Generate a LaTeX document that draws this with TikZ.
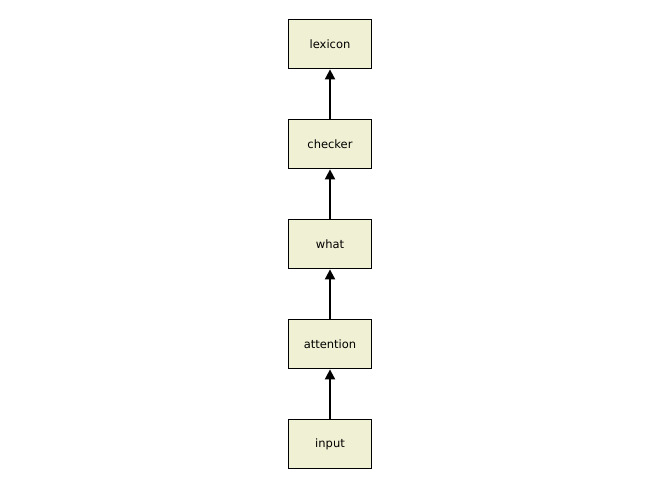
\documentclass[tikz,border=0pt]{standalone}
\usepackage{fontspec}
\setmainfont{DejaVu Sans}
\usepackage{xcolor}
\usepackage{tikz}
\usetikzlibrary{arrows.meta}
\definecolor{boxfill}{HTML}{F0F0D4}

\begin{document}
\begin{tikzpicture}[x=1pt,y=1pt,-{Triangle[width=10pt,length=10pt]},shorten >=0pt,
  node distance=100pt,line width=1.8pt,
  main node/.style={rectangle,draw,fill=boxfill,minimum width=83pt,minimum height=49pt,
    line width=1.8pt,font=\fontsize{11.5}{13}\selectfont}]
  \useasboundingbox (0,0) rectangle (652,488);
  \node[main node] (input) at (330,44) {input};
  \node[main node] (attention) [above of=input] {attention};
  \node[main node] (what) [above of=attention] {what};
  \node[main node] (checker) [above of=what] {checker};
  \node[main node] (lexicon) [above of=checker] {lexicon};
  \path
    (input) edge (attention)
    (attention) edge (what)
    (what) edge (checker)
    (checker) edge (lexicon)
;
\end{tikzpicture}
\end{document}
